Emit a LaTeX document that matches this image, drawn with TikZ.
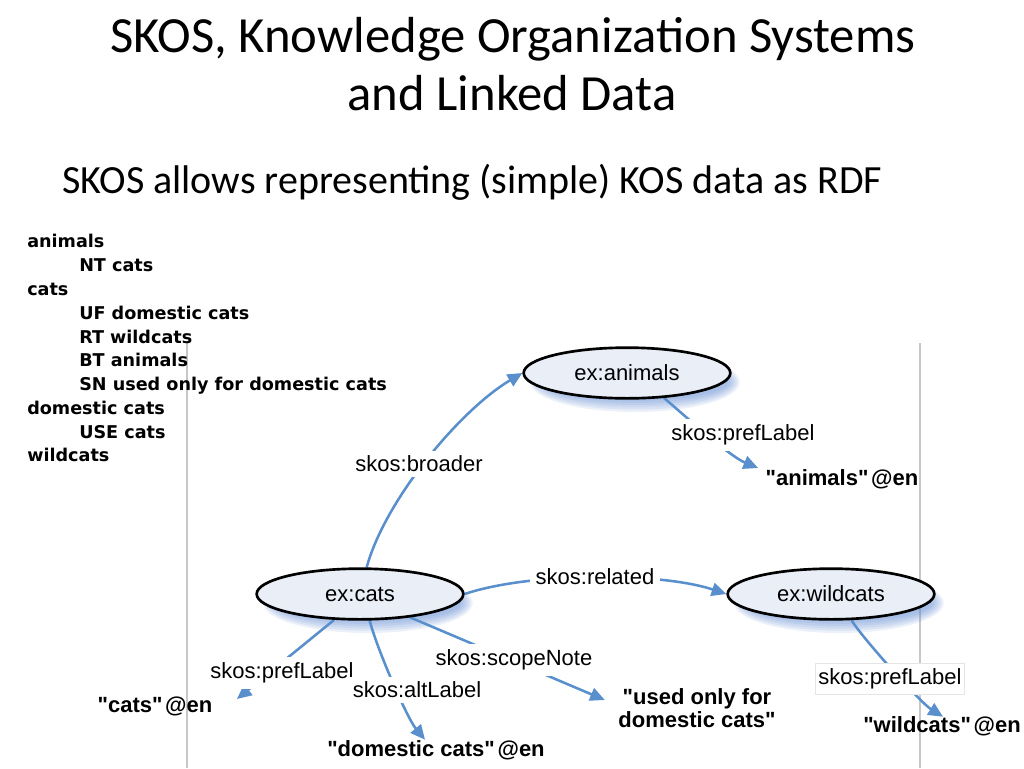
\documentclass[tikz,border=0pt]{standalone}
\usepackage{fontspec}
\setmainfont{Carlito}
\newfontfamily\helv{Liberation Sans}
\newfontfamily\verd{DejaVu Sans}
\usetikzlibrary{arrows.meta,calc,shapes.geometric}
\definecolor{edgeblue}{RGB}{88,143,204}
\definecolor{nodefill}{RGB}{233,238,247}
\definecolor{shadowblue}{RGB}{100,140,210}
\pgfdeclarelayer{bg}
\pgfdeclarelayer{edges}
\pgfsetlayers{bg,edges,main}
\begin{document}
\begin{tikzpicture}[x=0.75pt,y=-0.75pt,
  concept/.style={ellipse, draw=black, line width=2pt, fill=nodefill,
    minimum width=155pt, minimum height=38pt, inner sep=0pt,
    font=\helv\fontsize{16.5}{18}\selectfont},
  rel/.style={fill=white, inner xsep=4pt, inner ysep=4pt, font=\helv\fontsize{16.5}{18}\selectfont},
  lit/.style={inner sep=1pt, align=center,
    font=\helv\bfseries\fontsize{16.5}{17.3}\selectfont},
  edge/.style={draw=edgeblue, line width=1.9pt, -{Triangle[length=11pt,width=10pt]}},
  thes/.style={anchor=base west, inner sep=0pt, font=\verd\bfseries\fontsize{13.2}{16}\selectfont},
  frameline/.style={draw=black!22, line width=0.8pt},
  shade/.style={fill=shadowblue, opacity=0.13}
]
\useasboundingbox (0,0) rectangle (1024,768);

% title
\node[anchor=base, inner sep=0pt, font=\fontsize{38}{45}\selectfont] (title1) at (513,52) {SKOS, Knowledge Organization Systems};
\node[anchor=base, inner sep=0pt, font=\fontsize{38}{45}\selectfont] (title2) at (512,110) {and Linked Data};
\node[anchor=base west, inner sep=0pt, font=\fontsize{30}{36}\selectfont] (subtitle) at (62,193) {SKOS allows representing (simple) KOS data as RDF};

% frame lines of the diagram image
\begin{pgfonlayer}{bg}
\coordinate (fl1) at (187,343);
\coordinate (fl2) at (187,768);
\coordinate (fr1) at (920,343);
\coordinate (fr2) at (920,768);
\draw[frameline] (fl1) -- (fl2);
\draw[frameline] (fr1) -- (fr2);
\end{pgfonlayer}

% thesaurus text
\node[thes] (t1) at (27,247) {animals};
\node[thes] (t2) at (79,271) {NT cats};
\node[thes] (t3) at (27,295) {cats};
\node[thes] (t4) at (79,319) {UF domestic cats};
\node[thes] (t5) at (79,343) {RT wildcats};
\node[thes] (t6) at (79,366) {BT animals};
\node[thes] (t7) at (79,390) {SN used only for domestic cats};
\node[thes] (t8) at (27,414) {domestic cats};
\node[thes] (t9) at (79,438) {USE cats};
\node[thes] (t10) at (27,461) {wildcats};

% concepts
\node[concept] (animals) at (627,373) {ex:animals};
\node[concept] (cats) at (360,594) {ex:cats};
\node[concept] (wildcats) at (831,594) {ex:wildcats};

% shadows
\begin{pgfonlayer}{bg}
\foreach \n in {animals,cats,wildcats}{
  \foreach \k in {0,...,5}{
    \fill[shade] ($(\n.center)+(8,9)$) ellipse [x radius={70pt+1.7pt*\k}, y radius={14pt+1.7pt*\k}];
  }
}
\end{pgfonlayer}

% literals
\node[lit] (animalsLit) at (842,479) {"animals"\hspace{2pt}@en};
\node[lit] (catsLit) at (155,706) {"cats"\hspace{2pt}@en};
\node[lit] (domLit) at (436,750) {"domestic cats"\hspace{2pt}@en};
\node[lit] (useLit) at (697,708) {"used only for\\domestic cats"};
\node[lit] (wildLit) at (942,726) {"wildcats"\hspace{2pt}@en};

% relation labels
\node[rel] (lBroader) at (419,464) {skos:broader};
\node[rel] (lPrefA) at (743,435) {skos:prefLabel};
\node[rel] (lRelated) at (595,577) {skos:related};
\node[rel] (lPrefC) at (282,673) {skos:prefLabel};
\node[rel] (lAlt) at (417,690) {skos:altLabel};
\node[rel] (lScope) at (514,660) {skos:scopeNote};
\node[rel, draw=black!10, line width=0.6pt, inner xsep=2pt] (lPrefW) at (890,679) {skos:prefLabel};

% edges
\begin{pgfonlayer}{edges}
\draw[edge] ([xshift=5pt]cats.north) .. controls (385,500) and (460,410) .. (animals.west);
\draw[edge] (animals.-34) .. controls (683,414) and (729,456) .. ($(animalsLit.west)+(-6,-11)$);
\draw[edge] (cats.east) .. controls (530,572) and (660,572) .. (wildcats.west);
\draw[edge] (cats.-135) -- ($(catsLit.east)+(23,-7)$);
\draw[edge] (cats.-70) .. controls (377,649) and (407,718) .. ($(domLit.north)+(-11,1)$);
\draw[edge] (cats.-25) -- ($(useLit.west)+(-12,-8)$);
\draw[edge] (wildcats.-52) .. controls (864,640) and (921,703) .. ($(wildLit.north)+(1,2)$);
\end{pgfonlayer}
\end{tikzpicture}
\end{document}
